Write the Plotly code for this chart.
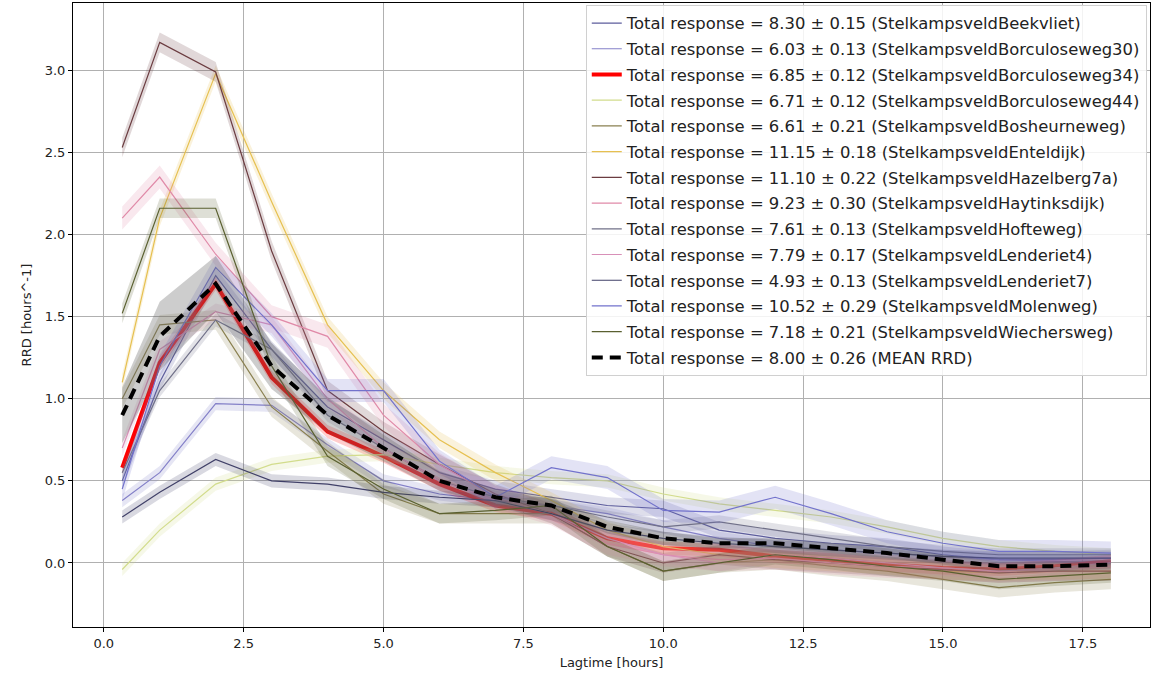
import plotly.graph_objects as go

# lagtime in hours (first sample at 20 minutes)
lag = [0.33, 1, 2, 3, 4, 5, 6, 7, 8, 9, 10, 11, 12, 13, 14, 15, 16, 17, 18]

names = ["StelkampsveldBeekvliet", "StelkampsveldBorculoseweg30", "StelkampsveldBorculoseweg34",
         "StelkampsveldBorculoseweg44", "StelkampsveldBosheurneweg", "StelkampsveldEnteldijk",
         "StelkampsveldHazelberg7a", "StelkampsveldHaytinksdijk", "StelkampsveldHofteweg",
         "StelkampsveldLenderiet4", "StelkampsveldLenderiet7", "StelkampsveldMolenweg",
         "StelkampsveldWiechersweg"]
total = [8.30, 6.03, 6.85, 6.71, 6.61, 11.15, 11.10, 9.23, 7.61, 7.79, 4.93, 10.52, 7.18]
total_err = [0.15, 0.13, 0.12, 0.12, 0.21, 0.18, 0.22, 0.30, 0.13, 0.17, 0.13, 0.29, 0.21]

beekvliet = [0.50, 1.10, 1.75, 1.30, 0.95, 0.75, 0.55, 0.45, 0.40, 0.35, 0.33, 0.20, 0.15, 0.12, 0.10, 0.05, 0.02, 0.02, 0.03]
borculoseweg30 = [0.38, 0.55, 0.97, 0.96, 0.72, 0.50, 0.42, 0.38, 0.35, 0.30, 0.22, 0.15, 0.10, 0.08, 0.06, 0.04, 0.02, 0.01, 0.00]
borculoseweg34 = [0.58, 1.22, 1.70, 1.13, 0.80, 0.65, 0.48, 0.35, 0.30, 0.15, 0.09, 0.08, 0.04, 0.02, -0.01, -0.03, -0.04, -0.02, 0.01]
borculoseweg44 = [-0.04, 0.20, 0.48, 0.60, 0.65, 0.66, 0.60, 0.55, 0.52, 0.50, 0.42, 0.36, 0.32, 0.28, 0.22, 0.15, 0.10, 0.07, 0.05]
bosheurneweg = [1.00, 1.45, 1.48, 0.95, 0.68, 0.42, 0.30, 0.30, 0.30, 0.10, -0.05, 0.00, 0.02, -0.02, -0.05, -0.10, -0.15, -0.12, -0.10]
enteldijk = [1.10, 2.10, 2.98, 2.20, 1.45, 1.05, 0.75, 0.55, 0.38, 0.20, 0.10, 0.05, 0.02, 0.00, -0.02, -0.05, -0.06, -0.05, -0.05]
hazelberg7a = [2.53, 3.17, 2.99, 1.90, 1.05, 0.80, 0.60, 0.42, 0.30, 0.10, 0.00, 0.05, 0.02, 0.00, -0.02, -0.04, -0.06, -0.05, -0.05]
haytinksdijk = [2.10, 2.35, 1.88, 1.50, 1.38, 0.90, 0.60, 0.40, 0.30, 0.12, 0.05, 0.02, 0.03, 0.00, -0.02, -0.03, -0.05, -0.04, -0.02]
hofteweg = [0.55, 1.05, 1.48, 1.30, 0.90, 0.70, 0.50, 0.40, 0.35, 0.28, 0.22, 0.25, 0.20, 0.15, 0.10, 0.07, 0.05, 0.05, 0.05]
lenderiet4 = [0.70, 1.30, 1.53, 1.45, 1.00, 0.70, 0.50, 0.38, 0.30, 0.15, 0.05, 0.00, 0.05, 0.03, 0.00, -0.03, -0.05, -0.03, 0.00]
lenderiet7 = [0.28, 0.43, 0.63, 0.50, 0.48, 0.43, 0.40, 0.38, 0.30, 0.20, 0.15, 0.12, 0.10, 0.08, 0.06, 0.04, 0.03, 0.03, 0.03]
molenweg = [0.45, 1.20, 1.80, 1.45, 1.05, 1.05, 0.62, 0.40, 0.58, 0.52, 0.32, 0.31, 0.40, 0.30, 0.19, 0.12, 0.07, 0.07, 0.06]
wiechersweg = [1.52, 2.16, 2.16, 1.20, 0.65, 0.45, 0.30, 0.32, 0.35, 0.10, -0.05, 0.00, 0.05, 0.02, -0.02, -0.05, -0.10, -0.08, -0.06]
series = [beekvliet, borculoseweg30, borculoseweg34, borculoseweg44, bosheurneweg, enteldijk,
          hazelberg7a, haytinksdijk, hofteweg, lenderiet4, lenderiet7, molenweg, wiechersweg]
# half-width of the uncertainty band of each location
spread = [0.05, 0.04, 0.04, 0.04, 0.06, 0.05, 0.06, 0.07, 0.04, 0.05, 0.04, 0.07, 0.06]

mean_rrd = [0.90, 1.38, 1.70, 1.20, 0.90, 0.70, 0.50, 0.40, 0.35, 0.22, 0.15, 0.12, 0.12, 0.09, 0.06, 0.02, -0.02, -0.02, -0.01]
mean_spread = [0.17, 0.21, 0.17, 0.14, 0.11, 0.08, 0.06, 0.05, 0.04, 0.04, 0.04, 0.03, 0.03, 0.03, 0.03, 0.03, 0.03, 0.03, 0.03]
mean_total, mean_err = 8.00, 0.26

colors = ["#5c5c9c", "#8480c8", "#ff0000", "#d2dc8c", "#8a8050", "#e6c050", "#6b3c40",
          "#e08aa8", "#707088", "#d890b8", "#404068", "#7272cc", "#5a6030"]


def rgba(hex_color, a):
    h = hex_color.lstrip("#")
    return "rgba(%d,%d,%d,%.2f)" % (int(h[0:2], 16), int(h[2:4], 16), int(h[4:6], 16), a)


fig = go.Figure()

for i, (name, vals) in enumerate(zip(names, series)):
    lo = [v - spread[i] for v in vals]
    hi = [v + spread[i] for v in vals]
    fig.add_trace(go.Scatter(x=lag + lag[::-1], y=hi + lo[::-1], fill="toself",
                             fillcolor=rgba(colors[i], 0.2), line=dict(width=0),
                             showlegend=False, hoverinfo="skip", legendgroup=name))
    fig.add_trace(go.Scatter(x=lag, y=vals, mode="lines", legendgroup=name,
                             line=dict(color=colors[i], width=4 if i == 2 else 1.2),
                             name="Total response = %.2f ± %.2f (%s)" % (total[i], total_err[i], name)))

lo = [v - s for v, s in zip(mean_rrd, mean_spread)]
hi = [v + s for v, s in zip(mean_rrd, mean_spread)]
fig.add_trace(go.Scatter(x=lag + lag[::-1], y=hi + lo[::-1], fill="toself",
                         fillcolor="rgba(100,100,100,0.32)", line=dict(width=0),
                         showlegend=False, hoverinfo="skip", legendgroup="mean"))
fig.add_trace(go.Scatter(x=lag, y=mean_rrd, mode="lines", legendgroup="mean",
                         line=dict(color="black", width=4, dash="11px,7px"),
                         name="Total response = %.2f ± %.2f (MEAN RRD)" % (mean_total, mean_err)))

axis_common = dict(showline=True, linecolor="black", linewidth=1, mirror=True,
                   showgrid=True, gridcolor="#b0b0b0", gridwidth=1, zeroline=False,
                   ticks="outside", ticklen=4, tickcolor="black", tickformat=".1f",
                   tickfont=dict(size=13, color="#222"))

fig.update_xaxes(range=[-0.55, 18.7], dtick=2.5, tick0=0,
                 title=dict(text="Lagtime [hours]", font=dict(size=13), standoff=8), **axis_common)
fig.update_yaxes(range=[-0.39, 3.41], dtick=0.5, tick0=0,
                 title=dict(text="RRD [hours^-1]", font=dict(size=13), standoff=10), **axis_common)

fig.update_layout(
    width=1152, height=681,
    margin=dict(l=73, r=2, t=3, b=54),
    plot_bgcolor="white", paper_bgcolor="white",
    font=dict(family="DejaVu Sans", size=13, color="#222"),
    legend=dict(x=0.997, y=0.997, xanchor="right", yanchor="top",
                bgcolor="rgba(255,255,255,0.85)", bordercolor="#d0d0d0", borderwidth=1,
                font=dict(size=16.4), tracegroupgap=1.4, itemwidth=30),
)

fig.write_html("out.html", config={"displayModeBar": False},
               post_script="document.body.style.margin='0';")
